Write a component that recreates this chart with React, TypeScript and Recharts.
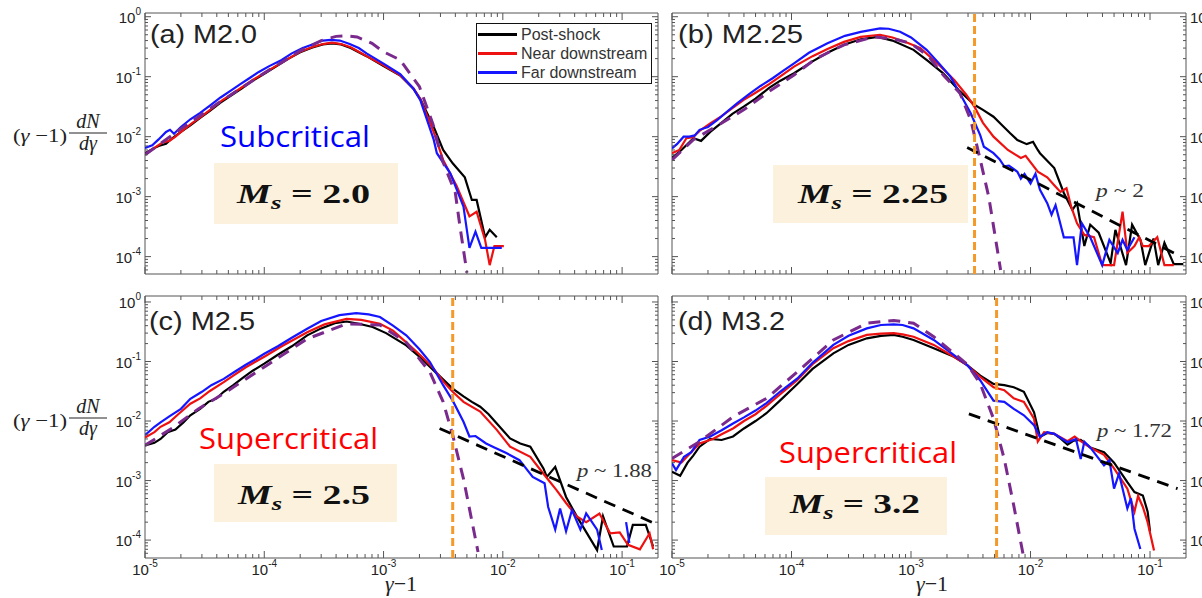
import React from 'react';
import { LineChart, Line, XAxis, YAxis, ReferenceLine, ReferenceArea, Legend } from 'recharts';

type Pt = [number, number | null];

const W = 1202;
const H = 598;
const FRAME = '#555';
const TICK_TEXT = '#222';
const SANS = '"Liberation Sans", Arial, sans-serif';
const SERIF = '"Liberation Serif", "Times New Roman", serif';

const C_POST = '#000000';
const C_NEAR = '#ee1111';
const C_FAR = '#1515ff';
const C_FIT = '#7a2a8c';
const C_CUT = '#f39a2b';

const SERIES_ORDER = ['Post-shock', 'Near downstream', 'Far downstream'];

const X_DOMAIN: [number, number] = [1e-5, 0.2];
const X_TICKS = [
  1e-5, 2e-5, 3e-5, 4e-5, 5e-5, 6e-5, 7e-5, 8e-5, 9e-5,
  1e-4, 2e-4, 3e-4, 4e-4, 5e-4, 6e-4, 7e-4, 8e-4, 9e-4,
  1e-3, 2e-3, 3e-3, 4e-3, 5e-3, 6e-3, 7e-3, 8e-3, 9e-3,
  1e-2, 2e-2, 3e-2, 4e-2, 5e-2, 6e-2, 7e-2, 8e-2, 9e-2,
  1e-1,
];
const Y_TICKS = [
  6e-5, 7e-5, 8e-5, 9e-5,
  1e-4, 2e-4, 3e-4, 4e-4, 5e-4, 6e-4, 7e-4, 8e-4, 9e-4,
  1e-3, 2e-3, 3e-3, 4e-3, 5e-3, 6e-3, 7e-3, 8e-3, 9e-3,
  1e-2, 2e-2, 3e-2, 4e-2, 5e-2, 6e-2, 7e-2, 8e-2, 9e-2,
  1e-1, 2e-1, 3e-1, 4e-1, 5e-1, 6e-1, 7e-1, 8e-1, 9e-1,
  1,
];

// ---------- (a) M2.0 ----------
const postShockA: Pt[] = [
  [1e-5, 5.3e-3], [1.15e-5, 6.2e-3], [1.3e-5, 7.0e-3], [1.5e-5, 7.6e-3], [1.7e-5, 9.5e-3], [2e-5, 1.2e-2],
  [2.4e-5, 1.55e-2], [2.9e-5, 2.05e-2], [3.5e-5, 2.7e-2], [4.3e-5, 3.7e-2], [5.3e-5, 4.9e-2], [6.5e-5, 6.4e-2],
  [8e-5, 8.6e-2], [1e-4, 0.112], [1.25e-4, 0.148], [1.6e-4, 0.2], [2e-4, 0.255], [2.5e-4, 0.305], [3.1e-4, 0.345],
  [3.7e-4, 0.36], [4.4e-4, 0.345], [5.3e-4, 0.3], [6.2e-4, 0.255], [7.2e-4, 0.22], [1e-3, 0.15], [1.38e-3, 0.105],
  [1.78e-3, 0.063], [2.04e-3, 0.042], [2.63e-3, 0.0147], [3.16e-3, 6e-3], [3.8e-3, 3.6e-3], [4.8e-3, 2.1e-3],
  [5.5e-3, 8.8e-4], [6.03e-3, 8.8e-4], [7.1e-3, 2.1e-4], [7.76e-3, 2.8e-4], [8.9e-3, 2.1e-4],
];
const nearDownA: Pt[] = [
  [1e-5, 5e-3], [1.2e-5, 6.5e-3], [1.4e-5, 8.0e-3], [1.6e-5, 8.5e-3], [1.8e-5, 1.0e-2], [2.1e-5, 1.3e-2],
  [2.5e-5, 1.7e-2], [3e-5, 2.2e-2], [3.6e-5, 2.9e-2], [4.4e-5, 4.0e-2], [5.4e-5, 5.2e-2], [6.6e-5, 6.8e-2],
  [8e-5, 8.8e-2], [1e-4, 0.115], [1.25e-4, 0.15], [1.6e-4, 0.2], [2e-4, 0.26], [2.5e-4, 0.31], [3.1e-4, 0.35],
  [3.7e-4, 0.37], [4.4e-4, 0.35], [5.3e-4, 0.31], [6.2e-4, 0.26], [7.2e-4, 0.22], [1e-3, 0.155], [1.38e-3, 0.105],
  [1.78e-3, 0.064], [2.04e-3, 0.042], [2.63e-3, 0.012], [3.16e-3, 4.1e-3], [4.1e-3, 1.5e-3], [5.25e-3, 4.7e-4],
  [6.03e-3, 5.6e-4], [7.1e-3, 1.9e-4], [7.76e-3, 7.2e-5], [8.5e-3, 1.5e-4], [1.02e-2, 1.5e-4],
];
const farDownA: Pt[] = [
  [1e-5, 6.5e-3], [1.15e-5, 7.2e-3], [1.3e-5, 9.0e-3], [1.5e-5, 1.2e-2], [1.62e-5, 1.3e-2], [1.75e-5, 1.12e-2],
  [2e-5, 1.45e-2], [2.4e-5, 1.95e-2], [2.9e-5, 2.5e-2], [3.5e-5, 3.3e-2], [4.3e-5, 4.5e-2], [5.2e-5, 5.8e-2],
  [6.3e-5, 7.5e-2], [7.6e-5, 9.6e-2], [9e-5, 0.12], [1.1e-4, 0.15], [1.4e-4, 0.19], [1.7e-4, 0.245], [2.1e-4, 0.3],
  [2.6e-4, 0.35], [3.1e-4, 0.4], [3.6e-4, 0.41], [4.3e-4, 0.4], [5.2e-4, 0.35], [6.2e-4, 0.3], [7.2e-4, 0.245],
  [1e-3, 0.165], [1.38e-3, 0.11], [1.78e-3, 0.063], [2.04e-3, 0.04], [2.63e-3, 9e-3], [2.8e-3, 5.3e-3],
  [3.63e-3, 2.45e-3], [4.68e-3, 6.8e-4], [5.25e-3, 1.4e-4], [5.9e-3, 2.6e-4], [6.6e-3, 1.4e-4], [9.8e-3, 1.4e-4],
];
const fitA: Pt[] = [
  [1e-5, 5e-3], [2e-5, 1.35e-2], [4e-5, 3.5e-2], [1e-4, 0.115], [2e-4, 0.27], [3e-4, 0.4], [4e-4, 0.47],
  [4.9e-4, 0.48], [6e-4, 0.46], [8e-4, 0.36], [1e-3, 0.26], [1.38e-3, 0.19], [2e-3, 0.068], [2.6e-3, 0.016],
  [3.1e-3, 4.1e-3], [4e-3, 1.15e-3], [4.37e-3, 3.2e-4], [5e-3, 5.4e-5],
];

// ---------- (b) M2.25 ----------
const postShockB: Pt[] = [
  [1e-5, 4.4e-3], [1.2e-5, 6e-3], [1.51e-5, 9.4e-3], [1.75e-5, 8.5e-3], [2.09e-5, 1.2e-2], [2.5e-5, 1.6e-2],
  [3.2e-5, 2.4e-2], [3.98e-5, 3.16e-2], [5e-5, 4.3e-2], [6.5e-5, 6.5e-2], [8e-5, 8.5e-2], [1.05e-4, 0.114],
  [1.5e-4, 0.18], [2e-4, 0.25], [2.75e-4, 0.34], [3.8e-4, 0.42], [5.25e-4, 0.46], [7e-4, 0.4], [1.05e-3, 0.28],
  [1.4e-3, 0.18], [1.86e-3, 0.114], [2.5e-3, 0.06], [3.39e-3, 0.034], [4.0e-3, 0.028], [4.9e-3, 0.0215],
  [5.7e-3, 0.016], [6.76e-3, 0.0114], [7.76e-3, 8.8e-3], [9.3e-3, 7.5e-3], [0.0105, 8.2e-3], [0.0115, 6e-3],
  [0.012, 5.3e-3], [0.0158, 3e-3], [0.019, 1.15e-3], [0.0224, 6e-4], [0.0245, 7.8e-4], [0.0282, 1.5e-4],
  [0.0316, 3.4e-4], [0.0372, 2.5e-4], [0.0468, 7.8e-5], [0.0513, 2.8e-4], [0.063, 7.2e-5], [0.0708, 3.4e-4],
  [0.0832, 1.9e-4], [0.0912, 7.2e-5], [0.107, 2e-4], [0.117, 7.2e-5], [0.132, 1.7e-4], [0.158, 7.5e-5], [0.19, 7.5e-5],
];
const nearDownB: Pt[] = [
  [1e-5, 5.3e-3], [1.15e-5, 6e-3], [1.32e-5, 9.4e-3], [1.5e-5, 9.8e-3], [1.7e-5, 1.25e-2], [2.09e-5, 1.67e-2],
  [2.6e-5, 2.2e-2], [3.2e-5, 3e-2], [3.98e-5, 4.1e-2], [5e-5, 5.4e-2], [6.5e-5, 7.5e-2], [8e-5, 0.1],
  [1.05e-4, 0.147], [1.5e-4, 0.22], [2e-4, 0.29], [2.75e-4, 0.38], [3.8e-4, 0.46], [5.5e-4, 0.5], [7e-4, 0.45],
  [9e-4, 0.38], [1.2e-3, 0.3], [1.7e-3, 0.16], [2.29e-3, 0.089], [2.9e-3, 0.05], [3.39e-3, 0.0316],
  [4.0e-3, 0.017], [4.9e-3, 1e-2], [6.46e-3, 6e-3], [8.3e-3, 4.4e-3], [9.1e-3, 4.8e-3], [0.0115, 2.6e-3],
  [0.0138, 2.1e-3], [0.0158, 1.55e-3], [0.0178, 1.2e-3], [0.02, 1.38e-3], [0.0219, 6.8e-4], [0.0245, 3.6e-4],
  [0.0282, 2.3e-4], [0.034, 2.1e-4], [0.0398, 7.2e-5], [0.05, 7.2e-5], [0.0589, 5.6e-4], [0.0646, 1.15e-4],
  [0.0741, 1.5e-4], [0.0813, 2.1e-4], [0.087, 1.5e-4], [0.0977, 1.5e-4], [0.115, 2.1e-4], [0.132, 7.2e-5], [0.158, 7.2e-5],
];
const farDownB: Pt[] = [
  [1e-5, 6.4e-3], [1.1e-5, 7.5e-3], [1.25e-5, 1e-2], [1.4e-5, 1.0e-2], [1.55e-5, 1.05e-2], [1.7e-5, 1.3e-2],
  [2e-5, 1.45e-2], [2.4e-5, 1.9e-2], [2.88e-5, 2.6e-2], [3.5e-5, 3.6e-2], [4.47e-5, 5.2e-2], [5.5e-5, 7e-2],
  [7e-5, 9.5e-2], [8.5e-5, 0.125], [1.05e-4, 0.167], [1.4e-4, 0.25], [2e-4, 0.36], [2.8e-4, 0.48], [3.8e-4, 0.56],
  [5.5e-4, 0.64], [6.5e-4, 0.63], [8.1e-4, 0.56], [1.0e-3, 0.45], [1.35e-3, 0.28], [1.7e-3, 0.17], [2.14e-3, 0.1],
  [2.6e-3, 0.05], [3.16e-3, 0.0245], [3.8e-3, 0.0105], [4.07e-3, 6.8e-3], [4.9e-3, 5.3e-3], [5.5e-3, 4.2e-3],
  [6.03e-3, 3.2e-3], [6.6e-3, 3.3e-3], [7.76e-3, 2.6e-3], [8.3e-3, 2.0e-3], [8.9e-3, 2.4e-3], [0.01, 1.66e-3],
  [0.011, 2.4e-3], [0.012, 1.3e-3], [0.0138, 7.8e-4], [0.015, 5e-4], [0.0162, 7.2e-4], [0.019, 2.1e-4],
  [0.0229, 2.1e-4], [0.0245, 7.2e-5], [0.0269, 3.6e-4], [0.0316, 2.1e-4], [0.0398, 7.2e-5], [0.0457, 1.9e-4],
  [0.0537, 1.15e-4], [0.0589, 1.9e-4], [0.0646, 1.3e-4], [0.0741, 2.1e-4],
];
const fitB: Pt[] = [
  [1e-5, 4.1e-3], [1.51e-5, 8.9e-3], [2.5e-5, 1.6e-2], [3.98e-5, 2.8e-2], [6.5e-5, 5.7e-2], [1.05e-4, 0.107],
  [1.6e-4, 0.2], [2.75e-4, 0.34], [4.9e-4, 0.46], [7e-4, 0.43], [1e-3, 0.36], [1.4e-3, 0.22], [1.86e-3, 0.107],
  [2.57e-3, 0.053], [3.16e-3, 0.019], [3.8e-3, 4.1e-3], [4.47e-3, 1e-3], [5.62e-3, 6e-5],
];
const powerB: Pt[] = [[2.95e-3, 6.6e-3], [0.182, 1.0e-4]];
const cutB = 3.4e-3;

// ---------- (c) M2.5 ----------
const postShockC: Pt[] = [
  [1e-5, 3.9e-3], [1.2e-5, 4.3e-3], [1.35e-5, 5e-3], [1.55e-5, 6.5e-3], [1.8e-5, 7.2e-3], [2.1e-5, 9.5e-3],
  [2.4e-5, 1.25e-2], [2.9e-5, 1.6e-2], [3.4e-5, 2.1e-2], [3.98e-5, 2.4e-2], [4.57e-5, 3.1e-2], [5.5e-5, 4.0e-2],
  [6.6e-5, 5.3e-2], [8e-5, 7.0e-2], [1e-4, 0.092], [1.3e-4, 0.13], [1.7e-4, 0.18], [2.29e-4, 0.275], [3e-4, 0.36],
  [3.9e-4, 0.44], [4.9e-4, 0.47], [6.2e-4, 0.43], [8.1e-4, 0.38], [1.05e-3, 0.3], [1.55e-3, 0.187], [2.1e-3, 0.11],
  [2.63e-3, 0.071], [3.8e-3, 0.035], [4.68e-3, 0.026], [5.5e-3, 0.021], [6.46e-3, 0.0174], [7.6e-3, 0.013],
  [8.9e-3, 9.1e-3], [0.0115, 5.1e-3], [0.014, 4.2e-3], [0.017, 3.7e-3], [0.0219, 1.6e-3], [0.0234, 1.15e-3],
  [0.0275, 1.7e-3], [0.0339, 5.3e-4], [0.0417, 2.5e-4], [0.0617, 6.8e-5], [0.0692, 2.5e-4], [0.0851, 7.8e-5],
  [0.11, 7.8e-5], [0.123, 1.8e-4], [0.158, 1.8e-4], [0.182, 7.8e-5],
];
const nearDownC: Pt[] = [
  [1e-5, 5.3e-3], [1.2e-5, 6.5e-3], [1.35e-5, 8.0e-3], [1.6e-5, 9.5e-3], [1.9e-5, 1.3e-2], [2.4e-5, 1.95e-2],
  [2.9e-5, 2.4e-2], [3.5e-5, 3.2e-2], [4.57e-5, 4.5e-2], [5.5e-5, 5.8e-2], [7e-5, 8e-2], [8.5e-5, 0.1],
  [1e-4, 0.12], [1.4e-4, 0.18], [2.29e-4, 0.31], [3.2e-4, 0.42], [4.9e-4, 0.52], [6.5e-4, 0.5], [9.33e-4, 0.43],
  [1.2e-3, 0.33], [1.55e-3, 0.21], [2.1e-3, 0.12], [2.63e-3, 0.076], [3.2e-3, 0.045], [3.8e-3, 0.031],
  [4.68e-3, 0.021], [6.46e-3, 0.0144], [8.9e-3, 7.1e-3], [0.0115, 3.7e-3], [0.017, 2.5e-3], [0.0219, 1.3e-3],
  [0.0282, 6.9e-4], [0.0339, 4.2e-4], [0.0417, 2.5e-4], [0.05, 2e-4], [0.0646, 2.8e-4], [0.0794, 1.3e-4],
  [0.0955, 1.35e-4], [0.112, 8.3e-5], [0.141, 7e-5], [0.17, 1.3e-4], [0.182, 7e-5],
];
const farDownC: Pt[] = [
  [1e-5, 5.8e-3], [1.2e-5, 8e-3], [1.35e-5, 9.5e-3], [1.6e-5, 1.2e-2], [2e-5, 1.6e-2], [2.4e-5, 2.36e-2],
  [3e-5, 3.1e-2], [3.6e-5, 4.0e-2], [4.57e-5, 5.1e-2], [5.7e-5, 6.8e-2], [7e-5, 8.8e-2], [8.5e-5, 0.11],
  [1e-4, 0.135], [1.3e-4, 0.18], [1.7e-4, 0.25], [2.29e-4, 0.355], [3e-4, 0.48], [4.27e-4, 0.6], [5.9e-4, 0.65],
  [7.5e-4, 0.62], [9.33e-4, 0.56], [1.2e-3, 0.4], [1.55e-3, 0.275], [2e-3, 0.16], [2.45e-3, 0.098], [3.16e-3, 0.04],
  [3.8e-3, 0.022], [4.68e-3, 9.7e-3], [5.25e-3, 5.5e-3], [5.9e-3, 5.6e-3], [7.24e-3, 4.2e-3], [8.5e-3, 3.6e-3],
  [0.0107, 2.9e-3], [0.0138, 2.2e-3], [0.0178, 1.15e-3], [0.0224, 9e-4], [0.024, 3.6e-4], [0.0275, 1.5e-4],
  [0.0302, 3.4e-4], [0.0339, 1.4e-4], [0.038, 3.2e-4], [0.0447, 1.5e-4], [0.05, 2.8e-4], [0.0617, 1.5e-4],
  [0.0676, 6.8e-5], [0.09, null], [0.108, 2.0e-4], [0.115, 9e-5],
];
const fitC: Pt[] = [
  [1e-5, 3.9e-3], [1.74e-5, 7.9e-3], [2.8e-5, 1.6e-2], [4.57e-5, 2.9e-2], [1e-4, 0.081], [2.29e-4, 0.24],
  [4.9e-4, 0.43], [9.33e-4, 0.41], [1.55e-3, 0.21], [2.45e-3, 0.066], [3.16e-3, 0.021], [3.8e-3, 5.8e-3],
  [4.68e-3, 1.07e-3], [6.2e-3, 6.3e-5],
];
const powerC: Pt[] = [[2.95e-3, 7.5e-3], [0.2, 1.8e-4]];
const cutC = 3.8e-3;

// ---------- (d) M3.2 ----------
const postShockD: Pt[] = [
  [1e-5, 1.4e-3], [1.17e-5, 1.2e-3], [1.35e-5, 2.0e-3], [1.5e-5, 2.6e-3], [1.7e-5, 3.7e-3], [2.09e-5, 5e-3],
  [2.6e-5, 4.8e-3], [3.24e-5, 5.5e-3], [4e-5, 7.5e-3], [5e-5, 1.0e-2], [6.17e-5, 1.35e-2], [8e-5, 2.2e-2],
  [1.12e-4, 4.2e-2], [1.5e-4, 7.5e-2], [2.24e-4, 0.137], [3e-4, 0.19], [4.27e-4, 0.245], [5.6e-4, 0.27],
  [7.16e-4, 0.28], [8.5e-4, 0.26], [1.05e-3, 0.23], [1.55e-3, 0.167], [2.29e-3, 0.12], [2.95e-3, 0.087],
  [3.8e-3, 0.058], [4.9e-3, 0.042], [6.03e-3, 0.04], [7.24e-3, 0.037], [8.8e-3, 0.031], [0.0107, 0.014],
  [0.012, 5.4e-3], [0.0138, 6.3e-3], [0.0158, 6.1e-3], [0.018, 5.0e-3], [0.0204, 4.0e-3], [0.023, 4.7e-3],
  [0.0263, 4.8e-3], [0.0316, 3.6e-3], [0.0412, 3.0e-3], [0.05, 2.0e-3], [0.0646, 9.4e-4], [0.0741, 6.4e-4],
  [0.0871, 5.6e-4], [0.0955, 3.0e-4], [0.1, 1.4e-4],
];
const nearDownD: Pt[] = [
  [1e-5, 2.2e-3], [1.2e-5, 2.0e-3], [1.4e-5, 2.8e-3], [1.7e-5, 4.2e-3], [2.2e-5, 5e-3], [2.6e-5, 6e-3],
  [3.24e-5, 7.5e-3], [4e-5, 1.0e-2], [5e-5, 1.3e-2], [6.17e-5, 1.8e-2], [8e-5, 2.8e-2], [1.12e-4, 4.9e-2],
  [1.5e-4, 9e-2], [2.24e-4, 0.167], [3e-4, 0.22], [4.27e-4, 0.28], [5.6e-4, 0.295], [7.16e-4, 0.3],
  [8.5e-4, 0.285], [1.05e-3, 0.26], [1.55e-3, 0.19], [2.29e-3, 0.12], [2.95e-3, 0.087], [3.8e-3, 0.055],
  [4.9e-3, 0.037], [6.03e-3, 0.033], [7.24e-3, 0.024], [8.8e-3, 0.021], [0.0107, 0.011], [0.0115, 4.5e-3],
  [0.013, 6.5e-3], [0.0158, 6.1e-3], [0.0204, 4.6e-3], [0.0234, 5.5e-3], [0.0263, 4.6e-3], [0.0316, 3.6e-3],
  [0.0412, 2.7e-3], [0.05, 1.6e-3], [0.0646, 7.3e-4], [0.0741, 3e-4], [0.0794, 5.5e-4], [0.0871, 3.6e-4],
  [0.0955, 2e-4], [0.108, 6.7e-5],
];
const farDownD: Pt[] = [
  [1e-5, 1.95e-3], [1.08e-5, 1.5e-3], [1.26e-5, 2.5e-3], [1.45e-5, 3.0e-3], [1.7e-5, 4.8e-3], [2.09e-5, 5.5e-3],
  [2.6e-5, 7e-3], [3.24e-5, 9.1e-3], [4e-5, 1.15e-2], [5e-5, 1.5e-2], [6.17e-5, 2.0e-2], [8e-5, 3.1e-2],
  [1.12e-4, 5.2e-2], [1.5e-4, 9.5e-2], [2.24e-4, 0.19], [3e-4, 0.27], [4.27e-4, 0.36], [5.6e-4, 0.41],
  [7.16e-4, 0.42], [8.5e-4, 0.41], [1.05e-3, 0.36], [1.55e-3, 0.23], [2.29e-3, 0.128], [2.95e-3, 0.087],
  [3.8e-3, 0.048], [4.9e-3, 0.022], [6.03e-3, 0.021], [7.24e-3, 0.016], [8.8e-3, 0.0125], [0.0107, 8.5e-3],
  [0.012, 5.4e-3], [0.0138, 6.5e-3], [0.0158, 6.1e-3], [0.0204, 4.4e-3], [0.024, 5e-3], [0.0263, 2.3e-3],
  [0.0282, 4.5e-3], [0.0316, 3.6e-3], [0.0363, 2.5e-3], [0.0412, 1.8e-3], [0.0457, 2.2e-3], [0.05, 7.3e-4],
  [0.055, 1.3e-3], [0.0646, 3.4e-4], [0.0692, 5e-4], [0.0741, 1.55e-4], [0.083, 7.1e-5],
];
const fitD: Pt[] = [
  [1e-5, 2.35e-3], [1.7e-5, 4.5e-3], [3.24e-5, 1.18e-2], [6.17e-5, 2.4e-2], [1.12e-4, 6.7e-2], [2.24e-4, 0.23],
  [4.27e-4, 0.44], [7.16e-4, 0.49], [1.05e-3, 0.44], [1.55e-3, 0.26], [2.29e-3, 0.137], [2.95e-3, 0.09],
  [3.8e-3, 0.042], [4.9e-3, 0.011], [6.03e-3, 2.3e-3], [7.24e-3, 3.8e-4], [8.8e-3, 4.9e-5],
];
const powerD: Pt[] = [[3.05e-3, 0.0132], [0.17, 7.3e-4]];
const cutD = 5.2e-3;

const rows = (pts: Pt[]) => pts.map(([x, y]) => ({ x, y }));
const isMajor = (v: number) => Math.abs(Math.log10(v) - Math.round(Math.log10(v))) < 1e-6;

interface Geom {
  left: number;
  right: number;
  top: number;
  bottom: number;
  yDomain: [number, number];
}

const TOP_Y: [number, number] = [5.13e-5, 1.153];
const BOT_Y: [number, number] = [5.0e-5, 1.26];

const renderLegend = (props: any) => {
  const items = (props.payload || [])
    .filter((p: any) => p.type !== 'none')
    .sort((a: any, b: any) => SERIES_ORDER.indexOf(a.value) - SERIES_ORDER.indexOf(b.value));
  return (
    <div style={{ width: 176, height: 61, border: '1px solid #111', background: '#fff', boxSizing: 'border-box', paddingTop: 1 }}>
      {items.map((it: any) => (
        <div key={it.value} style={{ display: 'flex', alignItems: 'center', height: 19 }}>
          <span style={{ display: 'inline-block', width: 39, height: 3, marginLeft: 1, marginRight: 4, background: it.color }} />
          <span style={{ fontFamily: SANS, fontSize: 16, color: '#333', lineHeight: '19px', whiteSpace: 'nowrap' }}>{it.value}</span>
        </div>
      ))}
    </div>
  );
};

function Panel({ g, post, near, far, fit, power, cut, xLabels, yLabelSide, legend }: {
  g: Geom; post: Pt[]; near: Pt[]; far: Pt[]; fit: Pt[]; power?: Pt[]; cut?: number;
  xLabels: boolean; yLabelSide: 'left' | 'right'; legend?: boolean;
}) {
  const xTick = (p: any) => {
    const v = p.payload.value;
    const x = p.x;
    const major = isMajor(v);
    const len = major ? 7 : 4;
    return (
      <g>
        <line x1={x} x2={x} y1={g.bottom} y2={g.bottom - len} stroke={FRAME} />
        <line x1={x} x2={x} y1={g.top} y2={g.top + len} stroke={FRAME} />
        {xLabels && major ? (
          <text x={x} y={g.bottom + 17} textAnchor="middle" fill={TICK_TEXT} fontFamily={SANS} fontSize={15}>
            10<tspan dy={-8} fontSize={10}>{Math.round(Math.log10(v))}</tspan>
          </text>
        ) : null}
      </g>
    );
  };
  const yTick = (p: any) => {
    const v = p.payload.value;
    const y = p.y;
    const major = isMajor(v);
    const len = major ? 6 : 3;
    const onLeft = yLabelSide === 'left';
    return (
      <g>
        <line x1={g.left} x2={g.left + len} y1={y} y2={y} stroke={FRAME} />
        <line x1={g.right} x2={g.right - len} y1={y} y2={y} stroke={FRAME} />
        {major ? (
          <text
            x={onLeft ? g.left - 4 : g.right + 4}
            y={y + 6}
            textAnchor={onLeft ? 'end' : 'start'}
            fill={TICK_TEXT}
            fontFamily={SANS}
            fontSize={15}
          >
            10<tspan dy={-8} fontSize={10}>{Math.round(Math.log10(v))}</tspan>
          </text>
        ) : null}
      </g>
    );
  };

  // axes take 1px each (zero-sized axes are not drawn), so margins are reduced by 1
  return (
    <div style={{ position: 'absolute', left: 0, top: 0 }}>
      <LineChart
        width={W}
        height={H}
        margin={{ left: g.left - 1, right: W - g.right, top: g.top, bottom: H - g.bottom - 1 }}
      >
        <XAxis
          dataKey="x"
          type="number"
          scale="log"
          domain={X_DOMAIN}
          allowDataOverflow
          ticks={X_TICKS}
          interval={0}
          height={1}
          axisLine={false}
          tickLine={false}
          tickSize={0}
          tickMargin={0}
          tick={xTick}
        />
        <YAxis
          type="number"
          scale="log"
          domain={g.yDomain}
          allowDataOverflow
          ticks={Y_TICKS}
          interval={0}
          width={1}
          axisLine={false}
          tickLine={false}
          tickSize={0}
          tickMargin={0}
          tick={yTick}
        />
        <ReferenceArea
          x1={X_DOMAIN[0]}
          x2={X_DOMAIN[1]}
          y1={g.yDomain[0]}
          y2={g.yDomain[1]}
          fill="none"
          stroke={FRAME}
          strokeWidth={1}
          ifOverflow="visible"
        />
        <Line data={rows(post)} dataKey="y" name="Post-shock" stroke={C_POST} strokeWidth={2.2} dot={false} isAnimationActive={false} />
        <Line data={rows(near)} dataKey="y" name="Near downstream" stroke={C_NEAR} strokeWidth={2.2} dot={false} isAnimationActive={false} />
        <Line data={rows(far)} dataKey="y" name="Far downstream" stroke={C_FAR} strokeWidth={2.2} dot={false} isAnimationActive={false} />
        <Line data={rows(fit)} dataKey="y" name="Maxwellian" legendType="none" stroke={C_FIT} strokeWidth={3} strokeDasharray="12 8" dot={false} isAnimationActive={false} />
        {power ? (
          <Line data={rows(power)} dataKey="y" name="Power law" legendType="none" stroke="#000" strokeWidth={2.8} strokeDasharray="12 8" dot={false} isAnimationActive={false} />
        ) : null}
        {cut ? <ReferenceLine x={cut} stroke={C_CUT} strokeWidth={3} strokeDasharray="8 4" ifOverflow="visible" /> : null}
        {legend ? (
          <Legend
            layout="vertical"
            align="center"
            verticalAlign="middle"
            content={renderLegend}
            wrapperStyle={{ left: 476, top: 23, width: 176, height: 61 }}
          />
        ) : null}
      </LineChart>
    </div>
  );
}

const YTitle = ({ cy }: { cy: number }) => (
  <g fontFamily={SERIF} fill="#222">
    <text x={13} y={cy + 9} fontSize={19} textLength={54} lengthAdjust="spacingAndGlyphs">
      (<tspan fontStyle="italic">γ</tspan> −1)
    </text>
    <text x={88} y={cy - 5} fontSize={20} fontStyle="italic" textAnchor="middle">dN</text>
    <line x1={69} x2={107} y1={cy} y2={cy} stroke="#222" strokeWidth={1} />
    <text x={88} y={cy + 17} fontSize={20} fontStyle="italic" textAnchor="middle">dγ</text>
  </g>
);

const MsLabel = ({ x, y, len, value }: { x: number; y: number; len: number; value: string }) => (
  <text x={x} y={y} fontFamily={SERIF} fontWeight="bold" fontSize={27} fill="#111" textLength={len} lengthAdjust="spacingAndGlyphs">
    <tspan fontStyle="italic">M</tspan>
    <tspan fontStyle="italic" fontSize={19} dy={6}>s</tspan>
    <tspan dy={-6}> = {value}</tspan>
  </text>
);

const PLabel = ({ x, y, len, value }: { x: number; y: number; len: number; value: string }) => (
  <text x={x} y={y} fontFamily={SERIF} fontSize={19} fill="#333" textLength={len} lengthAdjust="spacingAndGlyphs">
    <tspan fontStyle="italic">p</tspan> ~ {value}
  </text>
);

export default function App() {
  const gA: Geom = { left: 145, right: 658, top: 13, bottom: 274, yDomain: TOP_Y };
  const gB: Geom = { left: 672, right: 1186, top: 13, bottom: 274, yDomain: TOP_Y };
  const gC: Geom = { left: 145, right: 658, top: 296, bottom: 558, yDomain: BOT_Y };
  const gD: Geom = { left: 672, right: 1186, top: 296, bottom: 558, yDomain: BOT_Y };

  return (
    <div style={{ position: 'absolute', left: 0, top: 0, width: W, height: H, overflow: 'hidden', background: '#fff' }}>
      <svg width={W} height={H} style={{ position: 'absolute', left: 0, top: 0 }}>
        <rect x={214} y={163} width={184} height={61} fill="#fcf1dd" />
        <rect x={773} y={165} width={195} height={58} fill="#fcf1dd" />
        <rect x={214} y={464} width={183} height={58} fill="#fcf1dd" />
        <rect x={765} y={477} width={182} height={58} fill="#fcf1dd" />
        <MsLabel x={237} y={203} len={133} value="2.0" />
        <MsLabel x={798} y={203} len={150} value="2.25" />
        <MsLabel x={238} y={504} len={132} value="2.5" />
        <MsLabel x={790} y={513} len={130} value="3.2" />

        <g fontFamily={SANS} fontSize={25} fill="#222">
          <text x={150} y={43} textLength={107} lengthAdjust="spacingAndGlyphs">(a) M2.0</text>
          <text x={678} y={43} textLength={125} lengthAdjust="spacingAndGlyphs">(b) M2.25</text>
          <text x={149} y={330} textLength={106} lengthAdjust="spacingAndGlyphs">(c) M2.5</text>
          <text x={678} y={330} textLength={107} lengthAdjust="spacingAndGlyphs">(d) M3.2</text>
        </g>

        <g fontFamily={'"Open Sans", "Noto Sans", sans-serif'} fontSize={30}>
          <text x={220} y={147} fill="#0000ff" textLength={150} lengthAdjust="spacingAndGlyphs">Subcritical</text>
          <text x={199} y={449} fill="#ff0000" textLength={179} lengthAdjust="spacingAndGlyphs">Supercritical</text>
          <text x={779} y={463} fill="#ff0000" textLength={178} lengthAdjust="spacingAndGlyphs">Supercritical</text>
        </g>

        <PLabel x={1096} y={197} len={48} value="2" />
        <PLabel x={577} y={477} len={75} value="1.88" />
        <PLabel x={1097} y={437} len={75} value="1.72" />

        <YTitle cy={133} />
        <YTitle cy={418} />

        <g fontFamily={SERIF} fontSize={22} fill="#222">
          <text x={401} y={591} textAnchor="middle"><tspan fontStyle="italic">γ</tspan>−1</text>
          <text x={932} y={591} textAnchor="middle"><tspan fontStyle="italic">γ</tspan>−1</text>
        </g>
      </svg>

      <Panel g={gA} post={postShockA} near={nearDownA} far={farDownA} fit={fitA} xLabels={false} yLabelSide="left" legend />
      <Panel g={gB} post={postShockB} near={nearDownB} far={farDownB} fit={fitB} power={powerB} cut={cutB} xLabels={false} yLabelSide="right" />
      <Panel g={gC} post={postShockC} near={nearDownC} far={farDownC} fit={fitC} power={powerC} cut={cutC} xLabels yLabelSide="left" />
      <Panel g={gD} post={postShockD} near={nearDownD} far={farDownD} fit={fitD} power={powerD} cut={cutD} xLabels yLabelSide="right" />
    </div>
  );
}
